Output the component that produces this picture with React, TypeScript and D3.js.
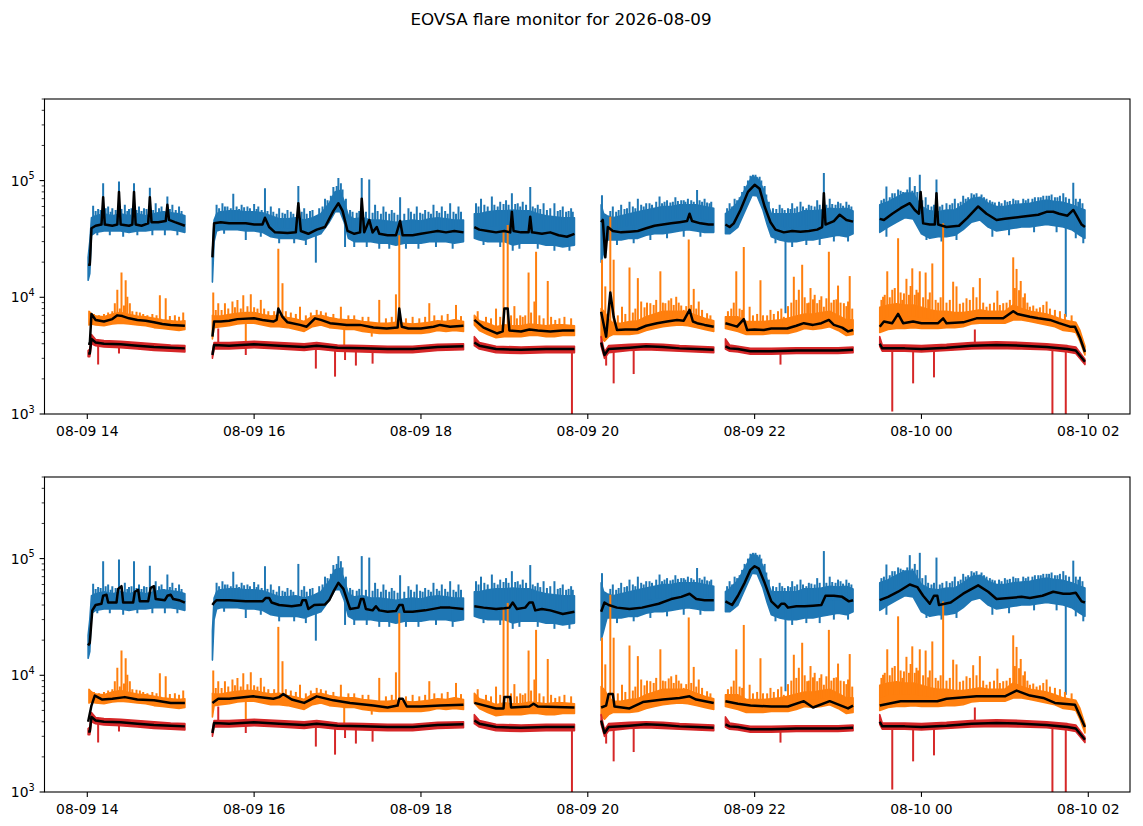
import React from "react";
import * as d3 from "d3";

type Pt = [number, number];
type Band = [number, number, number];

// ---------------- text / ticks ----------------
const title = "EOVSA flare monitor for 2026-08-09";
const xTickHours = [14, 16, 18, 20, 22, 24, 26];
const xTickLabels = ["08-09 14", "08-09 16", "08-09 18", "08-09 20", "08-09 22", "08-10 00", "08-10 02"];
const yMajorValues = [1e3, 1e4, 1e5];
const yMajorExponents = ["3", "4", "5"];
const yMinorMultipliers = [2, 3, 4, 5, 6, 7, 8, 9];
const xDomainHours: [number, number] = [13.487, 26.5];
const yDomain: [number, number] = [1e3, 5e5];
const K = 1000; // values below are in thousands

// ---------------- blue channel (time h, low k, high k) ----------------
const blueBand: Band[][] = [
  [[14.01, 14, 22], [14.03, 16, 30], [14.05, 34, 48], [14.1, 36, 50], [14.2, 37, 52], [14.3, 37, 50], [14.4, 37, 52], [14.5, 36, 50], [14.6, 37, 52], [14.7, 37, 50], [14.8, 38, 52], [14.9, 38, 54], [15.0, 38, 53], [15.1, 37, 52], [15.17, 36, 50]],
  [[15.5, 13.5, 24], [15.52, 30, 46], [15.55, 37, 52], [15.6, 38, 54], [15.7, 38, 55], [15.8, 38, 55], [15.9, 37, 54], [16.0, 37, 54], [16.1, 36, 53], [16.2, 33, 50], [16.3, 32, 47], [16.4, 32, 47], [16.5, 32, 48], [16.6, 31, 46], [16.7, 33, 48], [16.8, 35, 52], [16.9, 44, 64], [16.97, 54, 80], [17.03, 54, 82], [17.08, 44, 66], [17.13, 32, 50], [17.2, 30, 47], [17.3, 30, 48], [17.4, 30, 46], [17.5, 29, 46], [17.6, 29, 45], [17.7, 28, 44], [17.8, 29, 45], [17.9, 29, 46], [18.0, 29, 45], [18.1, 30, 47], [18.2, 30, 48], [18.3, 30, 47], [18.4, 29, 46], [18.51, 30, 46]],
  [[18.64, 32, 52], [18.7, 31, 52], [18.8, 30, 54], [18.9, 30, 55], [19.0, 30, 55], [19.1, 28, 56], [19.2, 29, 55], [19.3, 29, 55], [19.4, 29, 52], [19.5, 28, 50], [19.6, 28, 49], [19.7, 27, 48], [19.84, 28, 48]],
  [[20.16, 20, 62], [20.19, 24, 52], [20.23, 31, 50], [20.3, 31, 48], [20.4, 31, 50], [20.5, 32, 52], [20.6, 32, 54], [20.7, 34, 56], [20.8, 35, 58], [20.9, 35, 60], [21.0, 36, 60], [21.1, 37, 62], [21.2, 38, 62], [21.3, 37, 62], [21.4, 36, 60], [21.51, 36, 58]],
  [[21.65, 35, 52], [21.7, 35, 55], [21.8, 40, 65], [21.9, 58, 88], [21.97, 75, 108], [22.03, 74, 106], [22.1, 56, 86], [22.15, 42, 66], [22.2, 33, 52], [22.3, 31, 52], [22.4, 30, 52], [22.5, 30, 52], [22.6, 31, 55], [22.7, 31, 55], [22.8, 32, 56], [22.9, 33, 58], [23.0, 34, 57], [23.1, 33, 58], [23.18, 35, 55]],
  [[23.5, 36, 62], [23.6, 40, 66], [23.7, 44, 72], [23.8, 48, 78], [23.9, 47, 78], [24.0, 35, 60], [24.1, 32, 55], [24.2, 33, 54], [24.3, 33, 56], [24.4, 34, 56], [24.5, 38, 62], [24.6, 44, 70], [24.7, 46, 72], [24.8, 40, 64], [24.9, 37, 60], [25.0, 38, 60], [25.1, 39, 62], [25.2, 40, 63], [25.3, 40, 64], [25.4, 41, 66], [25.5, 42, 68], [25.6, 41, 66], [25.7, 40, 65], [25.8, 38, 62], [25.9, 34, 58], [25.96, 32, 56]],
];
const blueSpikes: Pt[] = [
  [14.07, 61], [14.13, 57], [14.19, 95], [14.25, 60], [14.3, 58], [14.38, 98], [14.45, 62], [14.5, 57], [14.56, 95], [14.62, 60], [14.68, 58], [14.75, 87], [14.82, 64], [14.89, 60], [14.96, 73], [15.02, 62], [15.1, 60],
  [15.55, 62], [15.62, 64], [15.68, 60], [15.75, 77], [15.85, 62], [15.92, 60], [16.0, 63], [16.05, 60], [16.13, 86], [16.2, 60], [16.3, 58], [16.4, 56], [16.53, 90], [16.6, 58], [16.7, 56], [16.85, 70], [16.95, 88], [17.01, 105], [17.06, 84], [17.29, 105], [17.38, 102], [17.45, 62], [17.55, 60], [17.65, 56], [17.75, 72], [17.85, 58], [17.95, 60], [18.05, 56], [18.15, 62], [18.25, 60], [18.35, 64], [18.45, 60],
  [18.66, 64], [18.72, 70], [18.85, 73], [18.95, 66], [19.02, 68], [19.09, 78], [19.16, 64], [19.22, 66], [19.31, 88], [19.4, 62], [19.47, 64], [19.6, 64], [19.7, 60], [19.8, 58],
  [20.17, 75], [20.3, 60], [20.4, 62], [20.5, 66], [20.6, 70], [20.7, 64], [20.86, 73], [20.95, 68], [21.05, 72], [21.12, 68], [21.2, 70], [21.31, 83], [21.4, 70], [21.48, 66],
  [21.7, 64], [21.76, 70], [21.85, 80], [21.98, 112], [22.3, 62], [22.45, 64], [22.55, 66], [22.65, 62], [22.75, 68], [22.83, 116], [22.9, 70], [23.0, 66], [23.1, 66],
  [23.58, 89], [23.65, 78], [23.72, 84], [23.86, 107], [23.92, 90], [23.98, 112], [24.05, 72], [24.18, 102], [24.3, 64], [24.4, 70], [24.5, 74], [24.6, 78], [24.75, 72], [24.85, 66], [25.0, 68], [25.1, 70], [25.25, 68], [25.4, 72], [25.5, 74], [25.6, 72], [25.7, 78], [25.82, 96], [25.9, 70],
];
const blueNoiseUp: Pt[] = [
  [14.1, 55], [14.16, 56], [14.22, 58], [14.28, 54], [14.34, 56], [14.41, 57], [14.48, 55], [14.53, 58], [14.59, 56], [14.65, 55], [14.71, 57], [14.79, 56], [14.86, 58], [14.92, 55], [14.99, 57], [15.06, 56], [15.13, 55],
  [15.58, 58], [15.65, 60], [15.72, 58], [15.79, 60], [15.82, 57], [15.88, 59], [15.95, 58], [16.03, 57], [16.09, 56], [16.16, 55], [16.23, 54], [16.27, 52], [16.34, 53], [16.37, 52], [16.44, 54], [16.47, 52], [16.57, 54], [16.63, 52], [16.67, 55], [16.78, 58], [16.82, 60], [16.88, 68], [16.92, 74], [16.99, 90], [17.04, 95], [17.1, 70], [17.15, 56], [17.18, 54], [17.23, 53], [17.26, 55], [17.34, 54], [17.42, 53], [17.48, 55], [17.52, 52], [17.58, 54], [17.62, 52], [17.68, 53], [17.72, 51], [17.8, 52], [17.88, 54], [17.92, 52], [17.99, 53], [18.02, 52], [18.09, 54], [18.12, 52], [18.19, 55], [18.22, 53], [18.29, 55], [18.32, 52], [18.39, 54], [18.42, 52], [18.48, 54],
  [18.69, 60], [18.76, 62], [18.8, 60], [18.88, 62], [18.92, 60], [18.99, 63], [19.05, 62], [19.13, 63], [19.19, 60], [19.26, 62], [19.34, 60], [19.37, 58], [19.43, 57], [19.51, 56], [19.55, 58], [19.64, 55], [19.67, 56], [19.74, 54], [19.77, 55], [19.82, 54],
  [20.27, 55], [20.34, 54], [20.37, 56], [20.44, 57], [20.47, 58], [20.54, 60], [20.57, 58], [20.64, 62], [20.67, 60], [20.74, 64], [20.77, 62], [20.82, 66], [20.89, 64], [20.92, 66], [20.99, 65], [21.02, 66], [21.08, 67], [21.15, 68], [21.17, 66], [21.24, 68], [21.27, 66], [21.34, 68], [21.37, 66], [21.43, 65], [21.46, 64],
  [21.67, 58], [21.73, 60], [21.79, 68], [21.82, 72], [21.88, 90], [21.92, 100], [21.95, 110], [22.01, 112], [22.06, 108], [22.08, 100], [22.12, 90], [22.14, 76], [22.17, 66], [22.22, 58], [22.26, 57], [22.33, 58], [22.36, 56], [22.4, 58], [22.43, 57], [22.48, 58], [22.51, 60], [22.58, 60], [22.62, 58], [22.68, 61], [22.72, 60], [22.78, 62], [22.86, 62], [22.93, 63], [22.97, 62], [23.03, 64], [23.06, 61], [23.13, 62], [23.16, 60],
  [23.52, 68], [23.55, 70], [23.62, 72], [23.68, 78], [23.75, 82], [23.78, 80], [23.83, 84], [23.89, 82], [23.95, 80], [24.01, 68], [24.08, 62], [24.12, 60], [24.15, 62], [24.22, 60], [24.25, 62], [24.34, 62], [24.37, 64], [24.44, 64], [24.47, 66], [24.53, 70], [24.56, 72], [24.63, 76], [24.66, 78], [24.72, 76], [24.78, 70], [24.82, 68], [24.88, 65], [24.93, 66], [24.96, 64], [25.03, 66], [25.06, 67], [25.13, 68], [25.16, 68], [25.22, 70], [25.28, 70], [25.33, 70], [25.36, 72], [25.43, 72], [25.46, 74], [25.53, 74], [25.56, 76], [25.63, 72], [25.66, 74], [25.73, 72], [25.77, 70], [25.85, 70], [25.88, 66], [25.93, 64],
];
const blueDips: Pt[] = [[16.74, 19.8], [17.09, 27], [19.1, 25], [22.37, 7.3], [25.73, 6.8]];
const blueNoiseDown: Pt[] = [
  [14.12, 34], [14.27, 34], [14.43, 33], [14.6, 34], [14.78, 34], [14.93, 34], [15.08, 34],
  [15.64, 35], [15.9, 31], [16.08, 33], [16.3, 29], [16.48, 29], [16.62, 28], [17.2, 27], [17.35, 27], [17.5, 26], [17.62, 26], [17.82, 26], [17.97, 26], [18.18, 27], [18.38, 26],
  [18.75, 28], [18.95, 27], [19.18, 26], [19.4, 26], [19.6, 25], [19.78, 25],
  [20.35, 28], [20.55, 29], [20.75, 31], [20.95, 32], [21.15, 33], [21.35, 33],
  [22.25, 29], [22.45, 27], [22.62, 28], [22.78, 28], [22.95, 30], [23.12, 30],
  [23.58, 33], [24.06, 31], [24.24, 30], [24.42, 31], [24.85, 33], [25.05, 34], [25.35, 36], [25.62, 36], [25.85, 32], [25.94, 29],
];

// ---------------- orange channel ----------------
const orangeBand: Band[][] = [
  [[14.02, 5.8, 7.6], [14.05, 5.9, 7.2], [14.1, 5.8, 6.9], [14.2, 5.7, 6.8], [14.3, 5.9, 7.2], [14.4, 6.0, 7.4], [14.5, 5.9, 7.1], [14.6, 5.8, 6.9], [14.7, 5.7, 6.8], [14.8, 5.5, 6.6], [14.9, 5.4, 6.4], [15.0, 5.3, 6.3], [15.1, 5.2, 6.2], [15.17, 5.3, 6.3]],
  [[15.5, 4.4, 7.0], [15.52, 5.5, 6.9], [15.6, 5.6, 6.9], [15.7, 5.7, 7.1], [15.8, 5.9, 7.3], [15.9, 6.0, 7.4], [16.0, 6.0, 7.4], [16.1, 5.8, 7.1], [16.2, 5.6, 6.9], [16.3, 5.6, 7.0], [16.4, 5.5, 6.7], [16.5, 5.3, 6.5], [16.6, 5.1, 6.2], [16.7, 5.6, 6.9], [16.8, 5.8, 7.0], [16.9, 5.5, 6.7], [17.0, 5.4, 6.5], [17.1, 5.3, 6.4], [17.2, 5.3, 6.4], [17.3, 5.1, 6.2], [17.4, 5.0, 6.1], [17.5, 4.9, 6.0], [17.6, 4.9, 6.0], [17.7, 4.9, 6.1], [17.8, 4.9, 6.0], [17.9, 4.9, 5.9], [18.0, 4.9, 6.0], [18.1, 5.0, 6.1], [18.2, 5.2, 6.3], [18.3, 5.1, 6.2], [18.4, 5.2, 6.4], [18.51, 5.1, 6.2]],
  [[18.64, 5.8, 7.0], [18.7, 5.2, 6.3], [18.8, 4.8, 6.0], [18.9, 4.5, 5.6], [19.0, 4.6, 5.8], [19.1, 4.6, 5.7], [19.2, 4.6, 5.7], [19.3, 4.7, 5.9], [19.4, 4.7, 5.8], [19.5, 4.6, 5.7], [19.6, 4.6, 5.8], [19.7, 4.7, 5.8], [19.84, 4.7, 5.7]],
  [[20.16, 4.5, 8.0], [20.2, 4.2, 7.5], [20.25, 4.6, 6.5], [20.3, 4.8, 6.0], [20.4, 4.8, 6.0], [20.5, 4.8, 6.2], [20.6, 4.9, 6.3], [20.7, 5.2, 6.8], [20.8, 5.4, 7.2], [20.9, 5.6, 7.6], [21.0, 5.7, 7.6], [21.1, 5.8, 7.6], [21.2, 5.7, 7.5], [21.3, 5.5, 7.0], [21.4, 5.3, 6.6], [21.51, 5.1, 6.3]],
  [[21.65, 5.4, 6.8], [21.7, 5.3, 6.8], [21.8, 5.1, 6.8], [21.9, 4.8, 6.2], [22.0, 4.8, 6.2], [22.1, 4.8, 6.2], [22.2, 4.9, 6.3], [22.3, 4.9, 6.4], [22.4, 4.9, 6.6], [22.5, 5.1, 6.9], [22.6, 5.4, 7.2], [22.7, 5.3, 7.2], [22.8, 5.4, 7.4], [22.9, 5.6, 7.6], [23.0, 5.2, 7.0], [23.1, 4.7, 6.4], [23.18, 4.8, 6.4]],
  [[23.5, 5.0, 8.2], [23.6, 5.3, 8.6], [23.7, 5.4, 8.8], [23.8, 5.4, 8.6], [23.9, 5.5, 8.6], [24.0, 5.4, 8.2], [24.1, 5.4, 7.8], [24.2, 5.4, 7.6], [24.3, 5.5, 7.6], [24.4, 5.5, 7.4], [24.5, 5.6, 7.4], [24.6, 5.9, 7.6], [24.7, 6.0, 7.8], [24.8, 6.0, 7.6], [24.9, 6.0, 7.6], [25.0, 6.0, 7.6], [25.1, 6.4, 8.6], [25.2, 6.4, 8.0], [25.3, 6.2, 7.6], [25.4, 6.0, 7.4], [25.5, 5.8, 7.2], [25.6, 5.6, 6.8], [25.7, 5.2, 6.4], [25.8, 5.1, 6.2], [25.85, 5.0, 6.1], [25.9, 4.2, 5.2], [25.96, 3.2, 3.8]],
];
const orangeSpikes: Pt[] = [
  [14.3, 7.6], [14.33, 8.9], [14.36, 11.6], [14.41, 16.3], [14.46, 14], [14.48, 10.1], [14.51, 8.9], [14.59, 7.5], [14.67, 7.2], [14.87, 10.4], [14.94, 9.8], [15.05, 7.0], [15.15, 7.4],
  [15.51, 11], [15.57, 8.9], [15.65, 8.9], [15.74, 9.2], [15.8, 9.5], [15.87, 10.4], [15.96, 10.6], [16.08, 9.5], [16.29, 26], [16.34, 13.2], [16.55, 8.3], [16.75, 7.8], [17.04, 8.3], [17.5, 9.5], [17.7, 10.6], [17.74, 34], [18.1, 8.9], [18.42, 8.6],
  [18.9, 8], [18.99, 37.7], [19.04, 41.7], [19.12, 8.4], [19.19, 7], [19.25, 7], [19.29, 16.3], [19.36, 9.2], [19.38, 24.5], [19.47, 6.6], [19.52, 13.8], [19.61, 6.4],
  [20.17, 21], [20.21, 12.4], [20.27, 49], [20.31, 21], [20.41, 8.3], [20.5, 18], [20.6, 14.6], [20.64, 9.2], [20.75, 8.9], [20.87, 16.7], [20.93, 8.9], [21.0, 9.8], [21.06, 10.1], [21.15, 7.8], [21.21, 31.3], [21.27, 11.8], [21.33, 9.2], [21.43, 7.3],
  [21.78, 16.7], [21.82, 8], [21.87, 27], [21.94, 8.3], [22.07, 14], [22.19, 7.8], [22.35, 6.8], [22.47, 15], [22.53, 11.6], [22.57, 19], [22.63, 8.9], [22.67, 12], [22.75, 8.9], [22.83, 8.3], [22.89, 24.5], [22.95, 9.5], [23.0, 12.6], [23.07, 8.9], [23.14, 15.2],
  [23.54, 10.1], [23.59, 16.7], [23.65, 11.6], [23.72, 32], [23.79, 10.8], [23.82, 14.4], [23.89, 17.7], [23.94, 11.6], [23.98, 16.7], [24.05, 16.3], [24.13, 19.5], [24.26, 43], [24.38, 13.6], [24.42, 12.4], [24.54, 9.8], [24.62, 12.2], [24.7, 14.6], [24.78, 8.3], [24.91, 11.4], [24.98, 8.9], [25.1, 22], [25.14, 17.5], [25.19, 13.8], [25.24, 10.8], [25.3, 8.3], [25.38, 8], [25.5, 9.2],
];
const orangeNoiseUp: Pt[] = [
  [14.08, 7.2], [14.14, 7.0], [14.2, 7.2], [14.25, 7.4], [14.39, 8.0], [14.44, 8.5], [14.54, 7.6], [14.63, 7.4], [14.72, 7.0], [14.78, 7.2], [14.83, 7.0], [14.99, 6.9], [15.1, 6.8],
  [15.54, 7.8], [15.61, 7.8], [15.69, 8.0], [15.77, 8.2], [15.84, 8.0], [15.92, 8.4], [16.0, 8.2], [16.04, 8.0], [16.12, 8.0], [16.17, 7.6], [16.24, 7.6], [16.38, 7.6], [16.44, 7.4], [16.5, 7.2], [16.62, 7.0], [16.68, 7.4], [16.8, 7.6], [16.86, 7.4], [16.95, 7.2], [17.13, 7.0], [17.2, 7.0], [17.3, 6.8], [17.37, 6.8], [17.58, 6.6], [17.65, 6.8], [17.82, 6.6], [17.9, 6.8], [17.98, 6.6], [18.05, 6.8], [18.16, 7.0], [18.25, 7.0], [18.32, 7.2], [18.48, 6.9],
  [18.68, 7.6], [18.78, 6.8], [18.84, 6.6], [18.95, 6.8], [19.08, 7.0], [19.15, 6.6], [19.22, 6.8], [19.32, 7.4], [19.42, 7.0], [19.56, 6.8], [19.66, 6.6], [19.72, 6.8], [19.8, 6.6],
  [20.36, 7.0], [20.45, 7.2], [20.54, 7.4], [20.57, 8.0], [20.68, 8.2], [20.71, 9.0], [20.79, 8.6], [20.82, 9.5], [20.9, 9.0], [20.97, 9.4], [21.03, 8.6], [21.09, 9.0], [21.12, 8.5], [21.18, 8.4], [21.24, 8.6], [21.3, 8.0], [21.37, 7.8], [21.47, 7.0],
  [21.68, 7.6], [21.72, 8.0], [21.75, 9.0], [21.85, 7.8], [21.98, 7.0], [22.03, 7.2], [22.1, 7.0], [22.15, 7.0], [22.23, 7.2], [22.28, 7.6], [22.32, 8.0], [22.4, 8.4], [22.44, 9.0], [22.5, 9.5], [22.6, 10.0], [22.65, 9.0], [22.7, 9.6], [22.72, 10.5], [22.78, 9.5], [22.8, 10.2], [22.86, 9.8], [22.92, 9.0], [22.98, 9.6], [23.03, 9.0], [23.1, 8.4], [23.12, 9.2], [23.17, 8.0],
  [23.52, 9.5], [23.56, 10.5], [23.62, 10.0], [23.68, 12.0], [23.75, 11.0], [23.77, 9.5], [23.85, 10.5], [23.87, 12.5], [23.92, 10.5], [23.96, 11.0], [24.02, 10.0], [24.08, 9.6], [24.1, 11.0], [24.17, 9.5], [24.2, 9.0], [24.23, 10.0], [24.3, 9.0], [24.34, 9.5], [24.46, 8.8], [24.5, 9.0], [24.58, 9.5], [24.66, 10.0], [24.74, 9.0], [24.82, 8.8], [24.87, 9.0], [24.94, 8.6], [25.02, 9.0], [25.06, 9.5], [25.12, 12.0], [25.17, 11.5], [25.22, 10.0], [25.27, 9.0], [25.34, 8.5], [25.42, 8.2], [25.46, 8.6], [25.54, 8.0], [25.6, 7.8], [25.66, 7.6], [25.72, 7.2], [25.8, 7.0],
];
const orangeDips: Pt[] = [[15.9, 4.0], [17.08, 3.9], [17.41, 4.6]];

// ---------------- red channel ----------------
const redBand: Band[][] = [
  [[14.01, 3.1, 3.5], [14.03, 3.1, 3.6], [14.05, 4.0, 4.8], [14.1, 3.85, 4.35], [14.2, 3.75, 4.25], [14.4, 3.7, 4.2], [14.6, 3.6, 4.1], [14.8, 3.5, 4.0], [15.0, 3.45, 3.9], [15.17, 3.4, 3.85]],
  [[15.5, 3.0, 3.4], [15.52, 3.6, 4.1], [15.7, 3.6, 4.1], [16.0, 3.7, 4.2], [16.3, 3.6, 4.1], [16.6, 3.5, 4.0], [16.75, 3.6, 4.1], [17.0, 3.45, 3.9], [17.3, 3.4, 3.85], [17.6, 3.35, 3.8], [17.9, 3.35, 3.8], [18.2, 3.5, 3.95], [18.51, 3.55, 4.0]],
  [[18.64, 3.85, 4.6], [18.7, 3.6, 4.1], [18.9, 3.35, 3.8], [19.2, 3.3, 3.75], [19.5, 3.35, 3.8], [19.84, 3.35, 3.8]],
  [[20.16, 3.8, 4.6], [20.2, 3.0, 3.4], [20.25, 3.35, 3.85], [20.5, 3.5, 3.95], [20.7, 3.55, 4.0], [20.9, 3.5, 3.95], [21.1, 3.45, 3.85], [21.3, 3.4, 3.8], [21.51, 3.35, 3.75]],
  [[21.65, 3.6, 4.4], [21.7, 3.45, 3.9], [21.8, 3.4, 3.8], [21.95, 3.25, 3.65], [22.2, 3.25, 3.65], [22.5, 3.3, 3.7], [22.8, 3.3, 3.7], [23.0, 3.3, 3.7], [23.18, 3.35, 3.75]],
  [[23.5, 3.8, 4.6], [23.53, 3.45, 3.9], [23.6, 3.45, 3.9], [23.8, 3.45, 3.9], [24.0, 3.4, 3.85], [24.3, 3.5, 3.95], [24.6, 3.6, 4.1], [24.9, 3.65, 4.15], [25.2, 3.6, 4.1], [25.5, 3.55, 4.0], [25.75, 3.4, 3.85], [25.85, 3.3, 3.75], [25.96, 2.65, 2.95]],
];
const redSpikes: Pt[] = [[15.57, 5.4], [24.64, 5.3]];
const redDips: Pt[] = [
  [14.13, 2.65], [14.38, 3.3], [15.9, 3.2], [16.74, 2.45], [16.97, 2.09], [17.09, 2.9], [17.22, 2.6], [17.42, 2.7], [19.81, 0.5], [20.22, 2.6], [20.31, 1.83], [20.55, 2.2], [22.31, 2.65], [23.65, 1.05], [23.9, 1.83], [24.15, 2.06], [25.57, 0.5], [25.73, 0.5],
];

// ---------------- black (smoothed) lines, top panel ----------------
const blackBlueTop: Pt[][] = [
  [[14.01, 19], [14.03, 19], [14.05, 39], [14.1, 41], [14.17, 42], [14.19, 72], [14.21, 42], [14.3, 41], [14.36, 42], [14.38, 80], [14.4, 42], [14.5, 41], [14.54, 42], [14.56, 80], [14.58, 42], [14.65, 41], [14.73, 43], [14.75, 72], [14.77, 44], [14.85, 44], [14.94, 45], [14.96, 62], [14.98, 46], [15.05, 44], [15.17, 41]],
  [[15.5, 22], [15.52, 43], [15.6, 44], [15.7, 43], [15.8, 43], [15.9, 43], [16.0, 42], [16.1, 42], [16.13, 48], [16.18, 40], [16.25, 36], [16.4, 35.5], [16.5, 36], [16.53, 64], [16.56, 37], [16.65, 35], [16.75, 38], [16.85, 40], [16.95, 55], [17.01, 64], [17.06, 55], [17.12, 37], [17.2, 35], [17.27, 36], [17.29, 70], [17.32, 36], [17.38, 46], [17.42, 36], [17.47, 40], [17.5, 35], [17.6, 34], [17.7, 34], [17.75, 45], [17.78, 34], [17.9, 34], [18.0, 35], [18.1, 36], [18.2, 37], [18.3, 36], [18.4, 37], [18.51, 36]],
  [[18.64, 40], [18.7, 38], [18.8, 37], [18.9, 36], [19.0, 37], [19.07, 36], [19.09, 54], [19.11, 37], [19.2, 36], [19.29, 36], [19.31, 49], [19.33, 36], [19.45, 35], [19.55, 36], [19.65, 34], [19.75, 33], [19.84, 35]],
  [[20.16, 44], [20.18, 46], [20.21, 22], [20.24, 40], [20.3, 37], [20.4, 36], [20.5, 36.5], [20.6, 37], [20.7, 39], [20.8, 41], [20.9, 42], [21.0, 43], [21.1, 44], [21.19, 45], [21.22, 52], [21.25, 45], [21.35, 43], [21.45, 42], [21.51, 42]],
  [[21.65, 42], [21.7, 40], [21.75, 43], [21.83, 56], [21.92, 80], [22.0, 92], [22.06, 85], [22.12, 60], [22.19, 44], [22.25, 38], [22.35, 36], [22.45, 37], [22.55, 36.5], [22.65, 37], [22.75, 38], [22.81, 40], [22.83, 78], [22.85, 42], [22.95, 45], [23.02, 51], [23.1, 46], [23.18, 44.5]],
  [[23.5, 47], [23.55, 46], [23.65, 52], [23.75, 58], [23.86, 64], [23.92, 56], [23.97, 52], [23.99, 80], [24.02, 43], [24.1, 42], [24.16, 42], [24.18, 78], [24.2, 42], [24.3, 40], [24.45, 41], [24.55, 48], [24.68, 60], [24.78, 52], [24.9, 46], [25.0, 47], [25.1, 48], [25.2, 49], [25.3, 50], [25.4, 51], [25.5, 54], [25.58, 54], [25.65, 52], [25.75, 50], [25.82, 56], [25.86, 50], [25.92, 42], [25.96, 40]],
];
const blackOrangeTop: Pt[][] = [
  [[14.01, 4.0], [14.03, 4.0], [14.05, 7.2], [14.1, 6.4], [14.2, 6.2], [14.3, 6.5], [14.36, 7.0], [14.42, 6.9], [14.5, 6.6], [14.6, 6.4], [14.7, 6.3], [14.8, 6.1], [14.9, 5.9], [15.0, 5.8], [15.17, 5.7]],
  [[15.5, 4.6], [15.52, 6.2], [15.6, 6.2], [15.7, 6.3], [15.8, 6.5], [16.0, 6.6], [16.1, 6.4], [16.23, 6.2], [16.27, 6.4], [16.29, 8.0], [16.34, 6.8], [16.4, 6.1], [16.55, 5.8], [16.63, 5.6], [16.73, 6.6], [16.8, 6.4], [16.91, 6.0], [17.0, 5.9], [17.11, 5.8], [17.27, 5.8], [17.43, 5.5], [17.59, 5.4], [17.72, 5.5], [17.74, 8.0], [17.77, 5.6], [17.85, 5.4], [18.0, 5.4], [18.15, 5.6], [18.23, 5.8], [18.35, 5.6], [18.51, 5.7]],
  [[18.64, 6.4], [18.75, 5.5], [18.91, 4.9], [18.98, 5.1], [19.0, 8.0], [19.04, 8.0], [19.06, 5.2], [19.2, 5.1], [19.3, 5.3], [19.4, 5.2], [19.55, 5.1], [19.7, 5.2], [19.84, 5.2]],
  [[20.16, 7.5], [20.22, 4.6], [20.27, 11.0], [20.31, 6.8], [20.35, 5.25], [20.45, 5.3], [20.59, 5.3], [20.7, 5.7], [20.83, 6.0], [20.95, 6.2], [21.07, 6.4], [21.15, 6.3], [21.22, 7.8], [21.26, 6.2], [21.31, 6.0], [21.4, 5.8], [21.51, 5.6]],
  [[21.65, 6.0], [21.72, 5.8], [21.79, 5.6], [21.87, 6.5], [21.91, 5.25], [22.0, 5.3], [22.11, 5.25], [22.2, 5.4], [22.39, 5.4], [22.5, 5.7], [22.59, 6.0], [22.7, 5.8], [22.8, 6.0], [22.89, 6.4], [22.95, 5.8], [23.05, 5.5], [23.12, 5.1], [23.18, 5.25]],
  [[23.5, 5.6], [23.55, 6.2], [23.65, 6.0], [23.72, 7.2], [23.78, 6.0], [23.9, 6.2], [24.0, 6.0], [24.2, 6.0], [24.26, 6.6], [24.3, 6.0], [24.5, 6.1], [24.66, 6.6], [24.8, 6.6], [24.98, 6.6], [25.1, 7.6], [25.15, 7.2], [25.3, 6.8], [25.4, 6.6], [25.54, 6.4], [25.65, 6.0], [25.78, 5.6], [25.84, 5.6], [25.9, 4.5], [25.96, 3.4]],
];
const blackRed: Pt[][] = [
  [[14.01, 3.3], [14.03, 3.3], [14.05, 4.4], [14.1, 4.1], [14.2, 4.0], [14.4, 3.95], [14.6, 3.85], [14.8, 3.75], [15.0, 3.7], [15.17, 3.65]],
  [[15.5, 3.2], [15.52, 3.9], [15.7, 3.85], [16.0, 3.95], [16.3, 3.85], [16.6, 3.75], [16.75, 3.85], [17.0, 3.7], [17.3, 3.65], [17.6, 3.6], [17.9, 3.6], [18.2, 3.75], [18.51, 3.8]],
  [[18.64, 4.1], [18.7, 3.85], [18.9, 3.6], [19.2, 3.55], [19.5, 3.6], [19.84, 3.6]],
  [[20.16, 4.1], [20.2, 3.2], [20.25, 3.6], [20.5, 3.7], [20.7, 3.8], [20.9, 3.75], [21.1, 3.65], [21.3, 3.6], [21.51, 3.55]],
  [[21.65, 3.8], [21.7, 3.65], [21.8, 3.6], [21.95, 3.45], [22.2, 3.45], [22.5, 3.5], [22.8, 3.5], [23.0, 3.5], [23.18, 3.55]],
  [[23.5, 4.0], [23.53, 3.65], [23.6, 3.65], [23.8, 3.65], [24.0, 3.6], [24.3, 3.7], [24.6, 3.85], [24.9, 3.9], [25.2, 3.85], [25.5, 3.75], [25.75, 3.6], [25.85, 3.5], [25.96, 2.8]],
];

// ---------------- black (smoothed) lines, bottom panel ----------------
const blackBlueBottom: Pt[][] = [
  [[14.01, 18], [14.03, 19], [14.06, 36], [14.1, 40], [14.17, 41], [14.19, 48], [14.23, 49], [14.25, 42], [14.35, 42], [14.37, 55], [14.41, 58], [14.43, 42], [14.55, 42], [14.57, 52], [14.61, 54], [14.63, 43], [14.73, 43], [14.76, 56], [14.8, 58], [14.82, 45], [14.93, 44], [14.96, 48], [15.0, 49], [15.03, 45], [15.1, 44], [15.17, 42]],
  [[15.5, 40], [15.52, 42], [15.55, 44], [15.7, 44], [15.9, 43], [16.1, 43], [16.14, 46], [16.18, 46], [16.21, 42], [16.3, 40], [16.45, 39], [16.56, 40], [16.58, 44], [16.62, 44], [16.65, 37], [16.72, 40], [16.85, 40.5], [16.9, 44], [16.95, 52], [17.01, 62], [17.07, 55], [17.15, 37], [17.25, 38], [17.28, 45], [17.31, 45], [17.34, 37], [17.42, 36], [17.46, 39], [17.5, 36], [17.6, 35], [17.7, 35.5], [17.74, 40], [17.78, 40], [17.8, 35], [17.9, 35], [18.05, 36], [18.23, 38], [18.35, 38], [18.51, 37]],
  [[18.64, 39], [18.75, 38], [18.9, 37], [19.0, 37.5], [19.06, 38], [19.1, 42], [19.15, 37], [19.25, 38], [19.3, 42], [19.34, 42], [19.37, 36], [19.45, 37], [19.55, 36], [19.7, 33.5], [19.84, 35]],
  [[20.16, 35], [20.2, 42], [20.25, 40], [20.35, 38], [20.5, 37], [20.65, 38], [20.85, 41], [21.0, 45], [21.12, 47], [21.22, 50], [21.3, 45], [21.4, 44], [21.51, 44]],
  [[21.65, 43], [21.73, 40], [21.8, 48], [21.88, 62], [21.95, 80], [22.0, 86], [22.05, 82], [22.12, 62], [22.2, 43], [22.28, 38], [22.32, 41], [22.36, 41], [22.4, 38], [22.5, 39], [22.6, 39], [22.7, 39.5], [22.8, 40], [22.85, 48], [22.95, 48], [23.05, 47], [23.13, 43], [23.18, 44]],
  [[23.5, 44], [23.6, 47], [23.72, 52], [23.86, 60], [23.95, 57], [24.02, 48], [24.1, 41], [24.15, 48], [24.19, 48], [24.21, 40], [24.35, 42], [24.5, 50], [24.68, 59], [24.8, 52], [24.9, 45], [25.05, 46], [25.2, 47], [25.3, 46], [25.45, 48], [25.58, 52], [25.7, 50], [25.78, 50], [25.85, 51], [25.92, 43], [25.96, 42]],
];
const blackOrangeBottom: Pt[][] = [
  [[14.01, 4.0], [14.05, 5.5], [14.09, 6.7], [14.18, 6.2], [14.3, 6.3], [14.45, 6.5], [14.6, 6.2], [14.8, 6.1], [15.0, 5.8], [15.17, 5.8]],
  [[15.5, 5.8], [15.57, 6.3], [15.7, 6.3], [15.99, 6.6], [16.23, 6.3], [16.3, 6.5], [16.35, 6.9], [16.45, 6.2], [16.6, 5.8], [16.75, 6.6], [16.95, 6.1], [17.15, 5.8], [17.43, 5.5], [17.6, 5.3], [17.72, 5.5], [17.74, 6.3], [17.78, 6.3], [17.83, 5.4], [18.0, 5.4], [18.23, 5.5], [18.51, 5.6]],
  [[18.64, 5.8], [18.9, 5.2], [18.99, 5.2], [19.0, 6.5], [19.07, 6.5], [19.08, 5.3], [19.3, 5.4], [19.35, 5.7], [19.4, 5.4], [19.84, 5.3]],
  [[20.16, 5.3], [20.22, 5.5], [20.25, 6.9], [20.3, 6.9], [20.32, 5.4], [20.5, 5.2], [20.66, 5.9], [20.9, 6.2], [21.1, 6.4], [21.22, 6.6], [21.3, 6.2], [21.51, 5.8]],
  [[21.65, 6.0], [21.8, 5.7], [21.95, 5.5], [22.2, 5.4], [22.4, 5.4], [22.59, 6.0], [22.7, 5.3], [22.9, 6.0], [23.12, 5.2], [23.18, 5.5]],
  [[23.5, 5.5], [23.75, 6.0], [24.19, 6.0], [24.3, 6.3], [24.66, 6.6], [25.0, 6.6], [25.14, 7.4], [25.3, 6.7], [25.46, 6.4], [25.6, 5.8], [25.84, 5.6], [25.96, 3.6]],
];

// ---------------- layout ----------------
const W = 1143;
const H = 826;
const LEFT = 44.5;
const RIGHT = 1130;
const COLORS = { blue: "#1f77b4", orange: "#ff7f0e", red: "#d62728" };
const FONT = "'DejaVu Sans', sans-serif";

const panels = [
  { id: "top", top: 99, bottom: 414, blackBlue: blackBlueTop, blackOrange: blackOrangeTop, blackRedLine: blackRed },
  { id: "bot", top: 477, bottom: 792, blackBlue: blackBlueBottom, blackOrange: blackOrangeBottom, blackRedLine: blackRed },
];

function bandAt(segs: Band[][], t: number): [number, number] | null {
  for (const s of segs) {
    if (t >= s[0][0] && t <= s[s.length - 1][0]) {
      const i = d3.bisector((d: Band) => d[0]).left(s, t);
      if (i === 0) return [s[0][1], s[0][2]];
      const a = s[i - 1];
      const b = s[i];
      const f = (t - a[0]) / (b[0] - a[0]);
      return [a[1] + f * (b[1] - a[1]), a[2] + f * (b[2] - a[2])];
    }
  }
  return null;
}

function Panel({ p }: { p: (typeof panels)[number] }) {
  const x = d3.scaleLinear().domain(xDomainHours).range([LEFT, RIGHT]);
  const y = d3.scaleLog().domain(yDomain).range([p.bottom, p.top]);
  const area = d3
    .area<Band>()
    .x((d) => x(d[0]))
    .y0((d) => y(d[1] * K))
    .y1((d) => y(d[2] * K));
  const line = d3
    .line<Pt>()
    .x((d) => x(d[0]))
    .y((d) => y(d[1] * K));
  const clipId = `clip-${p.id}`;

  const channel = (segs: Band[][], marks: Pt[][], color: string) => (
    <g>
      {segs.map((s, i) => (
        <path key={"b" + i} d={area(s) || ""} fill={color} stroke={color} strokeWidth={1.6} strokeLinejoin="round" />
      ))}
      {marks.flat().map(([t, v], i) => {
        const b = bandAt(segs, t);
        if (!b) return null;
        const mid = Math.sqrt(b[0] * b[1]);
        return (
          <line key={"s" + i} x1={x(t)} x2={x(t)} y1={y(mid * K)} y2={y(v * K)} stroke={color} strokeWidth={2} />
        );
      })}
    </g>
  );

  const blacks = (segs: Pt[][]) =>
    segs.map((s, i) => (
      <path key={i} d={line(s) || ""} fill="none" stroke="#000" strokeWidth={2.5} strokeLinejoin="round" />
    ));

  const minorTicks: number[] = [];
  yMajorValues.forEach((dec) =>
    yMinorMultipliers.forEach((m) => {
      const v = m * dec;
      if (v <= yDomain[1]) minorTicks.push(v);
    })
  );

  return (
    <g>
      <defs>
        <clipPath id={clipId}>
          <rect x={LEFT} y={p.top} width={RIGHT - LEFT} height={p.bottom - p.top} />
        </clipPath>
      </defs>
      <g clipPath={`url(#${clipId})`}>
        {channel(blueBand, [blueNoiseUp, blueNoiseDown, blueSpikes, blueDips], COLORS.blue)}
        {channel(orangeBand, [orangeNoiseUp, orangeSpikes, orangeDips], COLORS.orange)}
        {channel(redBand, [redSpikes, redDips], COLORS.red)}
        {blacks(p.blackBlue)}
        {blacks(p.blackOrange)}
        {blacks(p.blackRedLine)}
      </g>
      <rect x={LEFT} y={p.top} width={RIGHT - LEFT} height={p.bottom - p.top} fill="none" stroke="#000" strokeWidth={1.1} />
      {minorTicks.map((v, i) => (
        <line key={"m" + i} x1={LEFT - 2.8} x2={LEFT} y1={y(v)} y2={y(v)} stroke="#000" strokeWidth={0.8} />
      ))}
      {yMajorValues.map((v, i) => (
        <g key={"M" + i}>
          <line x1={LEFT - 4.9} x2={LEFT} y1={y(v)} y2={y(v)} stroke="#000" strokeWidth={1.1} />
          <text x={LEFT - 9.8} y={y(v) + 5} textAnchor="end" fontFamily={FONT} fontSize={13.9} fill="#000">
            10
            <tspan dy={-6.5} fontSize={9.7}>
              {yMajorExponents[i]}
            </tspan>
          </text>
        </g>
      ))}
      {xTickHours.map((h, i) => (
        <g key={"x" + i}>
          <line x1={x(h)} x2={x(h)} y1={p.bottom} y2={p.bottom + 4.9} stroke="#000" strokeWidth={1.1} />
          <text x={x(h)} y={p.bottom + 21.5} textAnchor="middle" fontFamily={FONT} fontSize={13.9} fill="#000">
            {xTickLabels[i]}
          </text>
        </g>
      ))}
    </g>
  );
}

export default function App() {
  return (
    <svg
      width={W}
      height={H}
      viewBox={`0 0 ${W} ${H}`}
      style={{ position: "absolute", left: 0, top: 0, background: "#fff" }}
    >
      <rect x={0} y={0} width={W} height={H} fill="#fff" />
      <text x={561} y={24.5} textAnchor="middle" fontFamily={FONT} fontSize={16.7} fill="#000">
        {title}
      </text>
      {panels.map((p) => (
        <Panel key={p.id} p={p} />
      ))}
    </svg>
  );
}
